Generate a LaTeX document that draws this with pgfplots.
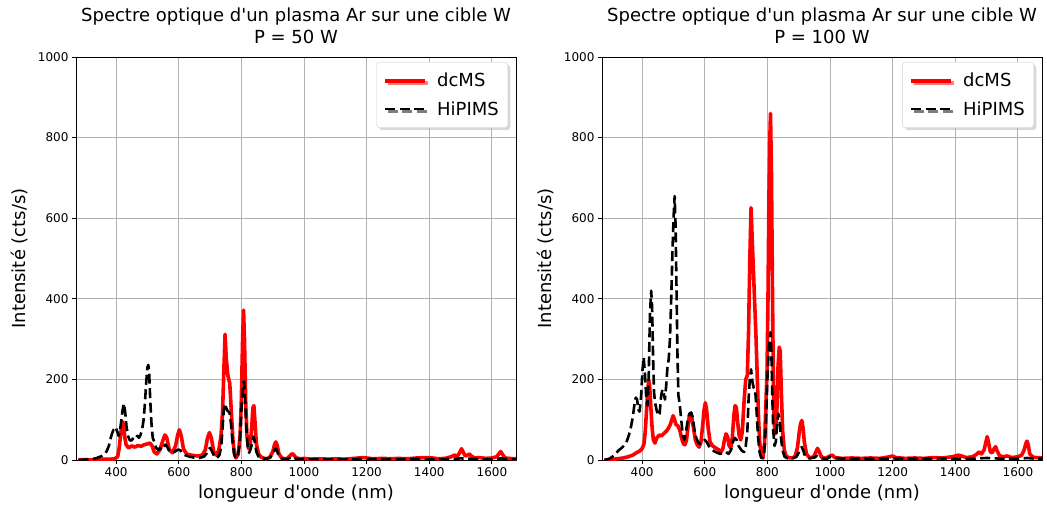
\documentclass[border=0pt]{standalone}
\usepackage{fontspec}
\setmainfont{DejaVu Sans}[Ligatures=TeXOff]
\usepackage{pgfplots}
\usepackage{pgfplotstable}
\pgfplotsset{compat=1.18}
\usetikzlibrary{shadows}

\pgfplotstableread{
x y
280 0
300 1
320 0
340 1
360 2
380 2
395 3
405 8
410 30
414 60
418 85
421 95
424 85
428 55
432 38
440 30
450 35
460 32
470 36
480 34
490 38
500 40
508 42
515 35
522 20
530 15
540 25
550 50
556 62
562 55
570 25
580 18
590 35
596 60
602 75
608 60
615 28
625 15
640 12
660 10
675 12
685 25
692 55
698 68
704 55
712 20
720 12
728 25
735 60
740 120
744 220
748 312
752 250
757 210
763 190
768 120
773 50
778 15
783 5
790 15
796 60
800 150
804 300
807 372
810 300
814 140
818 60
823 28
828 35
833 80
837 130
840 135
844 90
848 40
855 15
862 8
870 5
880 3
890 6
900 20
906 38
910 45
914 38
920 15
930 4
945 3
955 10
962 16
968 12
975 5
990 3
1000 4
1020 2
1050 3
1080 2
1100 3
1130 2
1160 4
1190 6
1200 5
1220 3
1250 4
1280 3
1300 4
1330 3
1360 5
1390 6
1410 5
1430 3
1450 4
1470 8
1480 12
1490 10
1497 18
1503 28
1508 20
1515 10
1522 12
1528 15
1534 10
1545 5
1560 6
1580 4
1600 5
1615 8
1622 15
1628 21
1634 14
1642 5
1655 4
1670 3
1680 3
}\Ldc

\pgfplotstableread{
x y
280 0
300 1
320 2
335 4
345 7
355 10
363 14
370 22
377 35
383 55
388 68
392 75
396 72
400 78
404 70
408 60
412 70
417 100
421 125
425 140
429 120
433 85
438 60
443 50
448 48
453 52
458 58
463 55
468 60
473 55
478 62
483 75
488 100
492 140
496 190
500 230
503 236
506 210
509 150
513 90
517 55
522 45
528 30
535 25
540 30
546 25
552 33
557 38
563 33
570 22
580 18
590 22
598 26
605 24
612 18
620 12
635 8
650 6
665 5
680 8
688 15
694 25
700 30
706 22
714 8
722 5
730 12
736 35
740 80
744 125
747 140
751 130
756 122
762 118
767 90
772 45
777 15
782 4
788 8
794 35
798 90
802 150
806 190
809 195
812 150
816 80
820 35
825 18
830 28
835 45
839 58
843 45
848 20
855 8
862 4
870 3
880 3
892 6
900 15
906 25
910 28
914 22
920 10
930 3
945 2
955 5
962 8
968 6
975 3
990 2
1000 3
1050 2
1100 2
1150 2
1200 3
1250 2
1300 2
1350 3
1400 2
1450 2
1500 4
1530 3
1560 2
1600 2
1630 4
1660 2
1680 2
}\Lhi

\pgfplotstableread{
x y
280 0
300 1
320 3
340 5
355 8
370 12
382 18
392 22
400 28
406 40
410 70
414 120
418 170
421 198
424 185
428 130
432 80
436 50
441 42
447 55
455 62
462 60
470 66
478 72
485 80
490 88
495 100
499 110
503 102
508 88
514 85
520 75
526 55
532 40
537 38
542 50
547 85
551 110
555 115
559 105
564 80
570 50
576 38
582 32
588 45
594 90
598 125
602 142
606 125
611 80
617 45
625 35
635 30
645 25
652 20
658 28
663 50
668 65
673 58
678 35
683 30
688 55
693 110
697 135
701 130
705 95
710 60
715 50
720 70
726 150
731 200
736 210
740 320
744 500
748 626
752 540
756 460
760 380
764 300
768 200
772 100
776 40
781 10
786 5
791 40
795 130
799 220
802 400
805 650
808 800
810 860
813 720
816 450
819 200
822 90
826 65
830 110
834 230
838 280
841 270
845 160
849 70
854 25
860 10
868 6
878 5
888 8
896 30
902 70
906 90
910 98
914 80
918 45
925 15
935 5
948 8
955 20
960 29
965 22
972 8
985 4
1000 10
1008 12
1015 6
1040 4
1070 5
1100 4
1130 5
1160 4
1190 8
1200 10
1210 6
1240 4
1270 5
1300 4
1330 6
1360 5
1390 8
1410 12
1420 10
1435 6
1455 8
1468 14
1476 20
1484 15
1492 25
1498 45
1502 58
1506 45
1512 20
1518 18
1524 28
1529 33
1534 22
1542 10
1555 8
1565 10
1580 6
1600 8
1612 12
1620 25
1625 40
1629 47
1633 38
1638 15
1648 7
1660 6
1680 5
}\Rdc

\pgfplotstableread{
x y
280 0
295 3
305 8
315 15
325 24
335 30
345 38
352 48
358 62
364 80
370 105
376 140
380 155
384 150
388 125
392 120
397 160
401 220
405 255
409 215
413 160
417 135
421 200
425 360
429 420
432 380
435 260
438 170
441 145
446 125
451 110
456 115
461 160
465 175
469 165
473 150
477 185
481 230
485 250
489 300
493 400
497 520
501 610
504 655
507 580
510 420
513 260
516 160
520 140
525 100
530 60
535 50
540 70
545 95
551 115
557 118
562 105
567 75
573 55
580 42
587 40
594 45
600 50
606 45
613 35
620 28
630 22
640 18
650 15
660 18
668 20
676 15
684 25
690 45
696 55
702 50
708 35
714 28
720 22
726 20
731 35
736 70
740 150
744 200
748 225
752 195
756 180
761 175
765 130
770 60
775 20
780 6
785 5
790 20
795 80
800 200
804 270
807 300
810 317
813 260
816 150
819 70
823 35
827 45
831 90
835 115
839 100
843 60
848 25
855 8
865 4
880 4
893 8
900 18
906 28
910 32
914 25
920 10
930 4
950 6
958 10
965 8
975 4
990 3
1000 8
1010 5
1050 3
1100 3
1150 3
1200 4
1250 3
1300 3
1350 4
1400 3
1450 3
1500 5
1530 4
1560 3
1600 3
1630 5
1660 3
1680 3
}\Rhi

\pgfplotsset{
  spec/.style={
    scale only axis, width=440pt, height=403pt,
    xmin=272, xmax=1677, ymin=0, ymax=1000,
    xtick={400,600,...,1600}, ytick={0,200,...,1000},
    grid=major, major grid style={color=black!30, line width=0.8pt},
    axis line style={line width=0.9pt},
    tick align=outside, major tick length=4pt,
    tick style={black, line width=0.9pt},
    xtick pos=bottom, ytick pos=left,
    ticklabel style={font=\fontsize{12}{14}\selectfont},
    /pgf/number format/assume math mode=true,
    /pgf/number format/1000 sep={},
    xlabel={longueur d'onde (nm)}, ylabel={Intensité (cts/s)},
    label style={font=\fontsize{18}{21.6}\selectfont},
    xlabel style={at={(axis description cs:0.5,-0.082)}, anchor=center},
    ylabel style={at={(axis description cs:-0.1295,0.5)}, anchor=center},
    title style={font=\fontsize{18}{21.6}\selectfont, align=center, at={(0.5,1)}, anchor=south, yshift=4pt},
    legend style={at={(axis description cs:1,1)}, anchor=north east, xshift=-8pt, yshift=-5pt,
      draw=black!20, rounded corners=3pt, fill=white,
      font=\fontsize{18}{21.6}\selectfont, inner xsep=7pt, inner ysep=9pt,
      column sep=8pt, row sep=9pt,
      drop shadow={shadow xshift=2.5pt, shadow yshift=-2.5pt, fill=black!30}},
    legend cell align=left,
    legend image code/.code={\draw[##1] (0pt,0pt) -- (40pt,0pt);},
  },
  dcms/.style={color=red, line width=3.6pt, line join=round, no markers},
  hipims/.style={color=black, line width=2.6pt, dash pattern=on 10pt off 4.5pt, line join=round, no markers},
}

\begin{document}
\begin{tikzpicture}
\path[use as bounding box] (0,0) rectangle (1047pt,504pt);
\begin{axis}[spec, at={(76pt,44pt)}, anchor=south west,
  title={Spectre optique d'un plasma Ar sur une cible W\\P = 50 W}]
\addplot[dcms] table {\Ldc};
\addlegendentry{dcMS}
\addplot[hipims] table {\Lhi};
\addlegendentry{HiPIMS}
\end{axis}
\begin{axis}[spec, at={(602pt,44pt)}, anchor=south west,
  title={Spectre optique d'un plasma Ar sur une cible W\\P = 100 W}]
\addplot[dcms] table {\Rdc};
\addlegendentry{dcMS}
\addplot[hipims] table {\Rhi};
\addlegendentry{HiPIMS}
\end{axis}
\end{tikzpicture}
\end{document}
